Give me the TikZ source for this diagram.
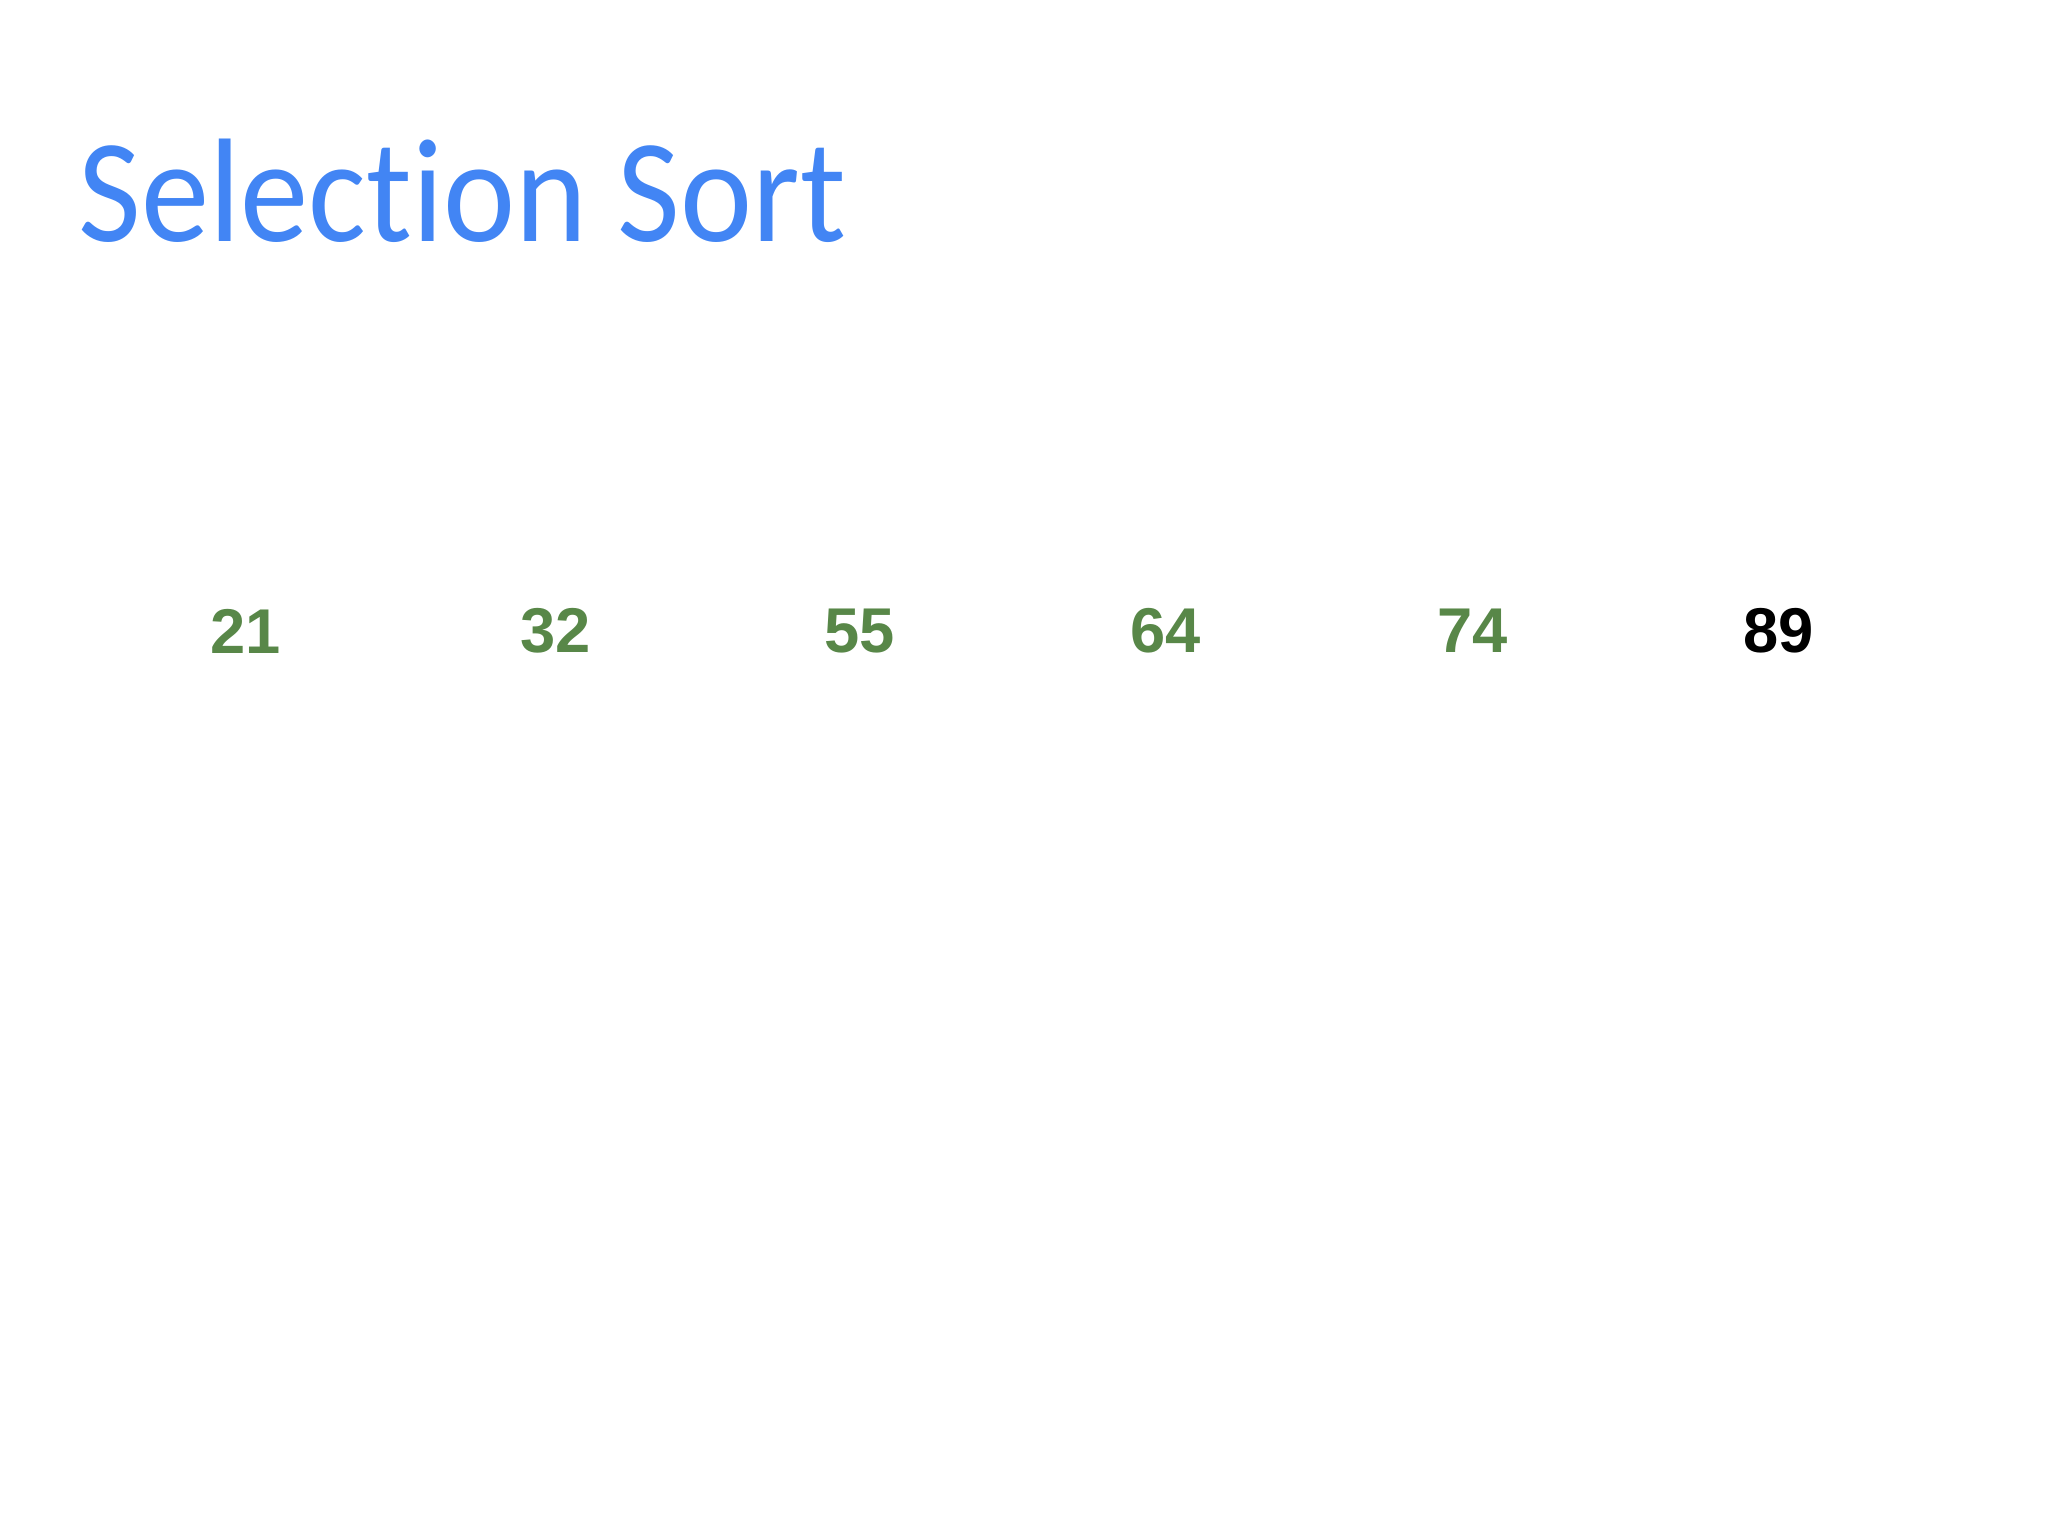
\documentclass[tikz,border=0pt]{standalone}
\usepackage{fontspec}
\setmainfont{Carlito}[Ligatures=NoCommon]
\newfontfamily\numfont{Liberation Sans}
\definecolor{titleblue}{RGB}{66,133,244}
\definecolor{sortedgreen}{RGB}{88,135,72}

\begin{document}
\begin{tikzpicture}

\tikzset{title/.style = {anchor=base west,inner sep=0pt,text=titleblue,xscale=0.925,transform shape,font=\fontsize{42}{50}\selectfont}}
\tikzset{cell/.style = {inner sep=0pt,font=\numfont\bfseries\fontsize{18}{22}\selectfont}}

\useasboundingbox (0,0) rectangle (20.48,-15.36);

\node[title] (head) at (0.78,-2.42) {Selection Sort};

\foreach \val/\x/\col [count=\i] in {21/2.46/sortedgreen, 32/5.56/sortedgreen, 55/8.60/sortedgreen,
    64/11.66/sortedgreen, 74/14.73/sortedgreen, 89/17.79/black}
  \node[cell,text=\col] (n\i) at (\x,-6.31) {\val};

\end{tikzpicture}
\end{document}
